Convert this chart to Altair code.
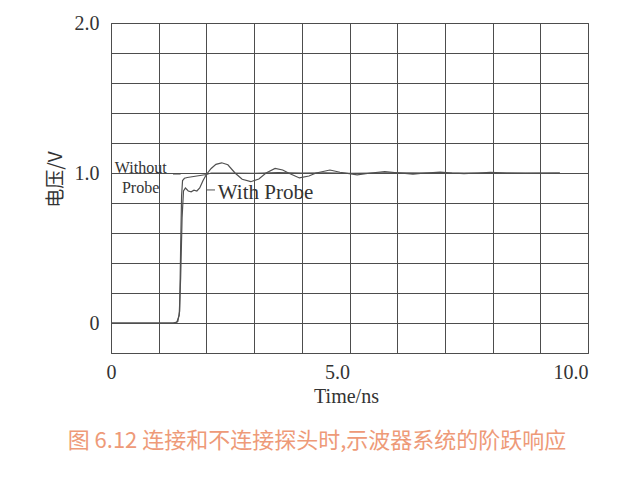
import altair as alt
import pandas as pd

# ---- data ----
t_without = [0, 1.32, 1.40, 1.44, 1.46, 1.48, 1.50, 1.54, 1.60, 1.70, 1.80, 1.90, 2.00, 2.10,
             2.50, 3.00, 3.50, 4.00, 4.50, 5.00, 5.50, 6.00, 7.00, 8.00, 9.41]
v_without = [0, 0, 0.01, 0.08, 0.50, 0.85, 0.95, 0.965, 0.97, 0.975, 0.98, 0.985, 0.99, 1.0,
             1.0, 0.997, 1.002, 1.0, 1.001, 0.998, 1.0, 1.001, 1.0, 1.0, 1.0]

t_with = [0, 1.30, 1.38, 1.43, 1.46, 1.49, 1.52, 1.56, 1.62, 1.68, 1.74, 1.80, 1.86, 1.93, 2.00,
          2.10, 2.20, 2.32, 2.45, 2.60, 2.75, 2.93, 3.10, 3.25, 3.44, 3.60, 3.72, 3.95, 4.15,
          4.30, 4.59, 4.80, 5.16, 5.45, 5.74, 6.05, 6.33, 6.60, 6.90, 7.15, 7.40, 7.70, 7.95,
          8.30, 8.70, 9.41]
v_with = [0, 0, 0.005, 0.05, 0.30, 0.70, 0.88, 0.90, 0.88, 0.875, 0.885, 0.88, 0.90, 0.95, 0.99,
          1.03, 1.058, 1.068, 1.055, 1.0, 0.958, 0.942, 0.96, 1.0, 1.03, 1.02, 1.0, 0.967, 0.98,
          1.0, 1.02, 1.005, 0.987, 1.0, 1.009, 1.0, 0.993, 1.0, 1.006, 1.0, 0.996, 1.0, 1.004,
          1.0, 0.998, 1.0]

x_grid = [0, 1, 2, 3, 4, 5, 6, 7, 8, 9, 10]
y_grid = [-0.2, 0, 0.2, 0.4, 0.6, 0.8, 1.0, 1.2, 1.4, 1.6, 1.8, 2.0]

ann_text = ["Without", "Probe", "With Probe"]
ann_x = [0.08, 0.23, 2.24]
ann_y = [1.033, 0.90, 0.867]
ann_size = [16, 16, 21]

leader_x = [1.30, 2.01]
leader_x2 = [1.46, 2.18]
leader_y = [0.993, 0.887]

caption = "图 6.12  连接和不连接探头时,示波器系统的阶跃响应"

# ---- build tables ----
df = pd.concat([
    pd.DataFrame({"t": t_without, "v": v_without, "s": "Without Probe"}),
    pd.DataFrame({"t": t_with, "v": v_with, "s": "With Probe"}),
])
ann = pd.DataFrame({"text": ann_text, "x": ann_x, "y": ann_y, "size": ann_size})
lead = pd.DataFrame({"x": leader_x, "x2": leader_x2, "y": leader_y})

GRID = "#4d4d4d"
TXT = "#333333"
SERIF = "Liberation Serif"

xscale = alt.Scale(domain=[0, 10], nice=False, zero=False)
yscale = alt.Scale(domain=[-0.2, 2.0], nice=False, zero=False)

xaxis = alt.Axis(
    values=x_grid, tickCount=30, grid=True, ticks=False, domain=False,
    gridColor=GRID, gridOpacity=1, gridWidth=1,
    labelExpr="datum.value==0 ? '0' : (datum.value==5 ? '5.0' : (datum.value==10 ? '10.0' : ''))",
    labelAlign={"condition": {"test": "datum.value == 0", "value": "center"}, "value": "right"},
    labelFont=SERIF, labelFontSize=20, labelColor=TXT, labelPadding=9,
    title="Time/ns", titleFont=SERIF, titleFontSize=20, titleFontWeight="normal",
    titleColor=TXT, titleX=235, titleY=43, titleBaseline="middle", titleAlign="center",
)
yaxis = alt.Axis(
    values=y_grid, tickCount=30, grid=True, ticks=False, domain=False,
    gridColor=GRID, gridOpacity=1, gridWidth=1,
    labelExpr="datum.value==0 ? '0' : (datum.value==1 ? '1.0' : (datum.value==2 ? '2.0' : ''))",
    labelFont=SERIF, labelFontSize=20, labelColor=TXT, labelPadding=12,
    title="电压/V", titleFont="Noto Sans CJK SC", titleFontSize=19, titleFontWeight="normal",
    titleColor=TXT, titleX=-56, titleY=156, titleBaseline="middle", titleAlign="center",
    titleAngle=270,
)

lines = alt.Chart(df).mark_line(color="#505050", strokeWidth=1.2, clip=True).encode(
    x=alt.X("t:Q", scale=xscale, axis=xaxis),
    y=alt.Y("v:Q", scale=yscale, axis=yaxis),
    detail="s:N",
)

texts = alt.Chart(ann).mark_text(align="left", baseline="middle", font=SERIF, color=TXT).encode(
    x=alt.X("x:Q", scale=xscale),
    y=alt.Y("y:Q", scale=yscale),
    text="text:N",
    size=alt.Size("size:Q", scale=None, legend=None),
)

leaders = alt.Chart(lead).mark_rule(color="#505050", strokeWidth=1).encode(
    x=alt.X("x:Q", scale=xscale),
    x2="x2:Q",
    y=alt.Y("y:Q", scale=yscale),
)

cap = alt.Chart(pd.DataFrame({"c": [caption]})).mark_text(
    font="Noto Sans CJK SC", fontSize=22, color="#ee9a78", align="center", baseline="middle"
).encode(
    x=alt.value(206), y=alt.value(418), text="c:N"
)

chart = alt.layer(lines, leaders, texts, cap).properties(
    width=477, height=330,
    autosize=alt.AutoSizeParams(type="none"),
    padding={"left": 111, "top": 23, "right": 38, "bottom": 134},
    background="white",
).configure_view(stroke=GRID, strokeWidth=1)

chart.save("out.html", embed_options={"renderer": "svg", "actions": False})
